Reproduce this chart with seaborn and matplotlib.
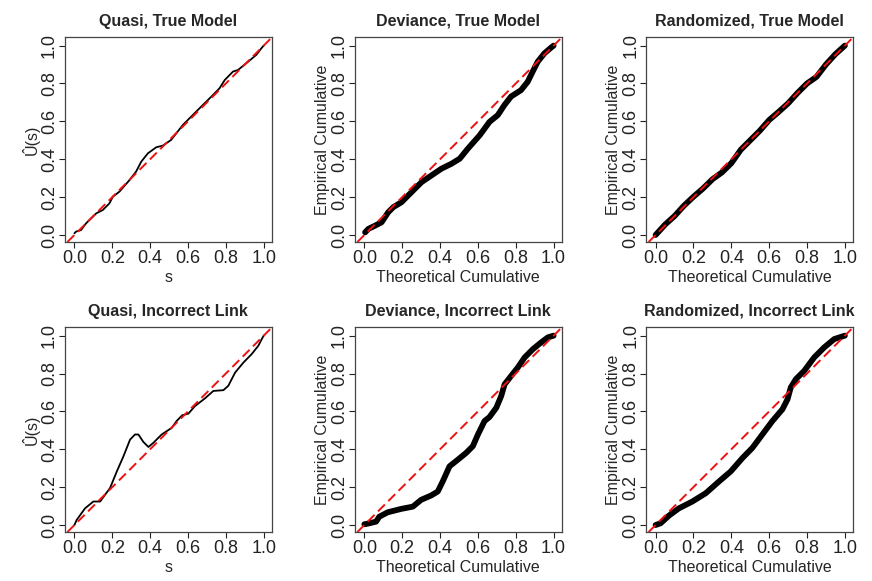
import numpy as np
import pandas as pd
import seaborn as sns
import matplotlib
matplotlib.use("Agg")
import matplotlib.pyplot as plt

# values
quasi_true_s = [0.0, 0.009, 0.035, 0.062, 0.115, 0.15, 0.185, 0.203, 0.238, 0.291, 0.326, 0.353,
                0.388, 0.432, 0.467, 0.511, 0.573, 0.661, 0.732, 0.767, 0.794, 0.838, 0.864,
                0.908, 0.961, 0.988, 1.0]
quasi_true_u = [0.009, 0.018, 0.026, 0.062, 0.114, 0.132, 0.167, 0.202, 0.229, 0.29, 0.335, 0.387,
                0.431, 0.463, 0.472, 0.502, 0.581, 0.669, 0.739, 0.775, 0.818, 0.863, 0.871,
                0.907, 0.951, 0.986, 1.0]

dev_true_x = [0.004, 0.021, 0.056, 0.091, 0.126, 0.153, 0.196, 0.249, 0.302, 0.354, 0.407, 0.46,
              0.504, 0.547, 0.609, 0.661, 0.705, 0.74, 0.775, 0.828, 0.863, 0.889, 0.916, 0.951,
              0.986, 1.0]
dev_true_y = [0.014, 0.032, 0.049, 0.067, 0.12, 0.147, 0.173, 0.226, 0.279, 0.314, 0.35, 0.376,
              0.403, 0.456, 0.526, 0.597, 0.633, 0.686, 0.731, 0.765, 0.809, 0.862, 0.915, 0.959,
              0.989, 1.0]

rand_true_x = [0.0, 0.05, 0.1, 0.15, 0.2, 0.25, 0.3, 0.35, 0.4, 0.45, 0.5, 0.55, 0.6, 0.65, 0.7,
               0.75, 0.8, 0.85, 0.9, 0.95, 1.0]
rand_true_y = [0.0, 0.055, 0.1, 0.155, 0.202, 0.245, 0.294, 0.33, 0.379, 0.45, 0.5, 0.55, 0.607,
               0.65, 0.695, 0.75, 0.8, 0.835, 0.9, 0.955, 1.0]

quasi_link_s = [0.0, 0.012, 0.056, 0.1, 0.136, 0.162, 0.188, 0.224, 0.259, 0.294, 0.32, 0.338,
                0.364, 0.391, 0.417, 0.461, 0.514, 0.54, 0.57, 0.602, 0.637, 0.69, 0.734, 0.787,
                0.813, 0.849, 0.893, 0.937, 0.972, 0.989, 1.0]
quasi_link_u = [0.0, 0.027, 0.088, 0.124, 0.124, 0.16, 0.195, 0.283, 0.363, 0.451, 0.478, 0.478,
                0.439, 0.412, 0.434, 0.478, 0.513, 0.549, 0.58, 0.588, 0.628, 0.669, 0.708, 0.712,
                0.735, 0.805, 0.858, 0.903, 0.947, 0.98, 1.0]

dev_link_x = [0.0, 0.026, 0.062, 0.079, 0.123, 0.194, 0.256, 0.3, 0.353, 0.388, 0.414, 0.45, 0.494,
              0.538, 0.573, 0.6, 0.635, 0.661, 0.697, 0.723, 0.741, 0.776, 0.811, 0.847, 0.891,
              0.935, 0.97, 1.0]
dev_link_y = [0.004, 0.009, 0.018, 0.044, 0.067, 0.085, 0.097, 0.133, 0.156, 0.177, 0.23, 0.31,
              0.345, 0.381, 0.416, 0.478, 0.549, 0.57, 0.619, 0.681, 0.743, 0.788, 0.832, 0.885,
              0.929, 0.965, 0.991, 1.0]

rand_link_x = [0.0, 0.026, 0.071, 0.123, 0.194, 0.265, 0.335, 0.397, 0.459, 0.511, 0.564, 0.617,
               0.67, 0.697, 0.714, 0.741, 0.785, 0.838, 0.891, 0.944, 1.0]
rand_link_y = [0.0, 0.009, 0.05, 0.088, 0.124, 0.168, 0.23, 0.283, 0.354, 0.407, 0.478, 0.549,
               0.611, 0.664, 0.726, 0.77, 0.814, 0.885, 0.938, 0.982, 1.0]

titles = ["Quasi, True Model", "Deviance, True Model", "Randomized, True Model",
          "Quasi, Incorrect Link", "Deviance, Incorrect Link", "Randomized, Incorrect Link"]
ticks = [0.0, 0.2, 0.4, 0.6, 0.8, 1.0]
tick_labels = ["0.0", "0.2", "0.4", "0.6", "0.8", "1.0"]

panels = [
    (quasi_true_s, quasi_true_u, "s", "Û(s)", 1.3),
    (dev_true_x, dev_true_y, "Theoretical Cumulative", "Empirical Cumulative", 4.2),
    (rand_true_x, rand_true_y, "Theoretical Cumulative", "Empirical Cumulative", 4.2),
    (quasi_link_s, quasi_link_u, "s", "Û(s)", 1.3),
    (dev_link_x, dev_link_y, "Theoretical Cumulative", "Empirical Cumulative", 4.2),
    (rand_link_x, rand_link_y, "Theoretical Cumulative", "Empirical Cumulative", 4.2),
]

sns.set_style("ticks")
plt.rcParams["font.family"] = ["Liberation Sans", "DejaVu Sans"]

fig = plt.figure(figsize=(8.72, 5.81), dpi=100)

lefts = [0.0745, 0.407, 0.741]
bottoms = [0.5835, 0.0843]
w, h = 0.237, 0.353

for i, (xs, ys, xlab, ylab, lw) in enumerate(panels):
    r, c = divmod(i, 3)
    ax = fig.add_axes([lefts[c], bottoms[r], w, h])
    df = pd.DataFrame({"x": xs, "y": ys})
    sns.lineplot(data=df, x="x", y="y", ax=ax, color="black", linewidth=lw,
                 estimator=None, sort=False, solid_capstyle="round", solid_joinstyle="round")
    ax.axline((0, 0), slope=1, color="#ee1111", linewidth=1.4, dashes=(5, 2.5))
    ax.set_xlim(-0.05, 1.042)
    ax.set_ylim(-0.037, 1.046)
    ax.set_xticks(ticks)
    ax.set_xticklabels(tick_labels)
    ax.set_yticks(ticks)
    ax.set_yticklabels(tick_labels, rotation=90, va="center")
    ax.tick_params(direction="out", length=4.5, width=0.8, labelsize=13, pad=1.5, colors="#222222")
    ax.tick_params(axis="y", pad=0.5)
    for sp in ax.spines.values():
        sp.set_visible(True)
        sp.set_color("#444444")
        sp.set_linewidth(0.9)
    ax.set_title(titles[i], fontsize=11.5, fontweight="bold", pad=8)
    ax.set_xlabel(xlab, fontsize=11.5, labelpad=2)
    ax.set_ylabel(ylab, fontsize=11.5, labelpad=1)

fig.savefig("out.png", dpi=100)
